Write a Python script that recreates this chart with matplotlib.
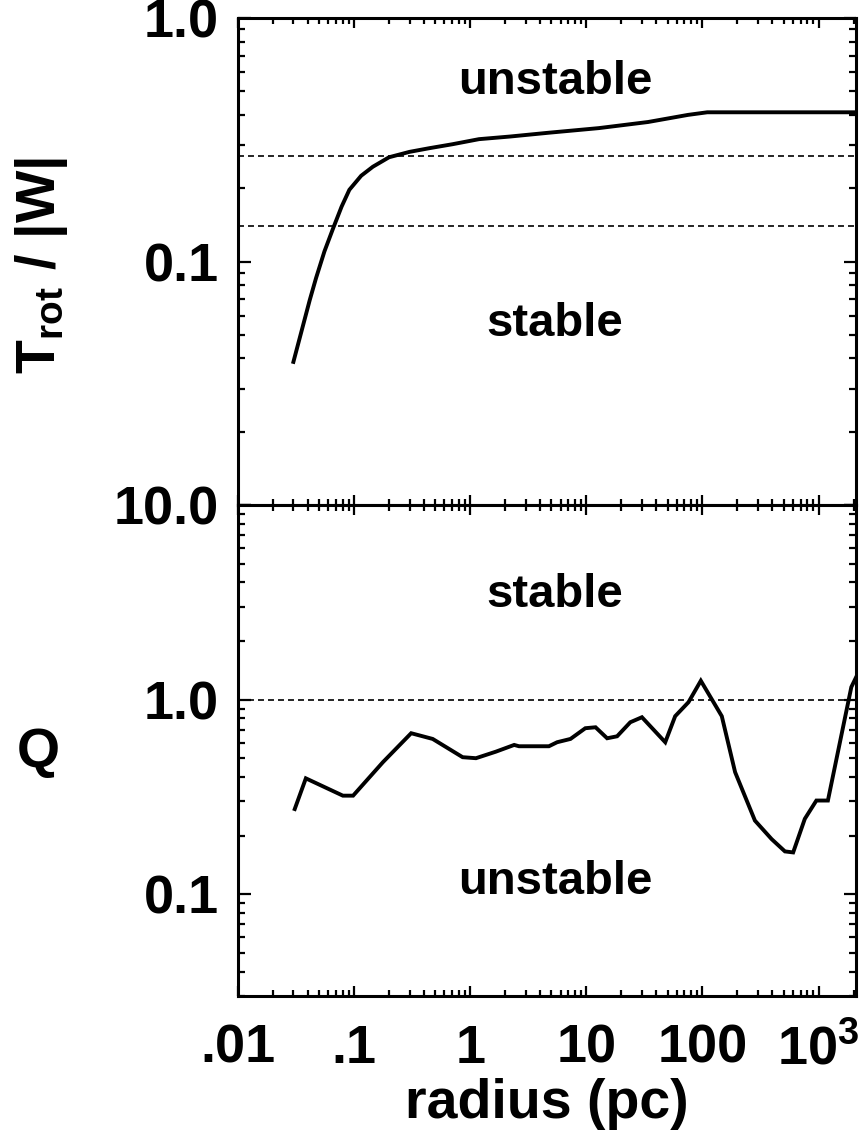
import matplotlib
matplotlib.use("Agg")
import matplotlib.pyplot as plt
from matplotlib.ticker import LogLocator, FuncFormatter, NullFormatter

plt.rcParams['font.family'] = ['Liberation Sans', 'DejaVu Sans']
plt.rcParams['font.weight'] = 'bold'
plt.rcParams['mathtext.fontset'] = 'custom'
plt.rcParams['mathtext.rm'] = 'Liberation Sans:bold'
plt.rcParams['mathtext.bf'] = 'Liberation Sans:bold'
plt.rcParams['mathtext.it'] = 'Liberation Sans:bold'
plt.rcParams['lines.scale_dashes'] = False

# Rotational-to-gravitational energy ratio vs radius
r_trot = [0.030, 0.0415, 0.047, 0.0555, 0.066, 0.078, 0.091, 0.115, 0.145,
          0.20, 0.30, 0.445, 0.70, 1.19, 2.2, 4.76, 12.8, 34, 75, 110, 300,
          1000, 2100]
t_over_w = [0.0387, 0.0695, 0.0855, 0.110, 0.137, 0.168, 0.197, 0.225, 0.245,
            0.268, 0.282, 0.292, 0.303, 0.318, 0.326, 0.338, 0.353, 0.374,
            0.400, 0.410, 0.410, 0.410, 0.410]

# Toomre Q vs radius
r_q = [0.0308, 0.0384, 0.080, 0.098, 0.177, 0.31, 0.475, 0.86, 1.12, 1.66,
       2.39, 2.63, 4.76, 5.6, 7.3, 9.8, 12.0, 15.1, 18.4, 23.9, 30.1, 47.8,
       58.2, 75.8, 96.8, 146.7, 191, 283, 394, 513, 604, 761, 957, 1203, 1914,
       2100]
q_vals = [0.274, 0.394, 0.321, 0.321, 0.477, 0.672, 0.628, 0.506, 0.500, 0.540,
          0.585, 0.576, 0.576, 0.604, 0.628, 0.713, 0.721, 0.633, 0.648, 0.765,
          0.812, 0.604, 0.822, 0.970, 1.25, 0.822, 0.424, 0.239, 0.192, 0.166,
          0.164, 0.244, 0.303, 0.303, 1.16, 1.30]

# Stability thresholds
trot_thresholds = [0.27, 0.14]
q_threshold = 1.0

x_ticks = [0.01, 0.1, 1, 10, 100, 1000]
x_ticklabels = ['.01', '.1', '1', '10', '100', r'$\mathbf{10^3}$']
top_yticks = {1.0: '1.0', 0.1: '0.1'}
bot_yticks = {10.0: '10.0', 1.0: '1.0', 0.1: '0.1'}

W, H = 865, 1147
fig = plt.figure(figsize=(W / 100, H / 100), dpi=100)

left, right = 238 / W, 856 / W
ax1 = fig.add_axes([left, 1 - 505 / H, right - left, (505 - 18) / H])
ax2 = fig.add_axes([left, 1 - 996 / H, right - left, (996 - 505) / H])

line_kw = dict(color='black', lw=2.8, solid_joinstyle='miter')
dash_kw = dict(color='black', lw=1.2, linestyle=(0, (4.3, 2.9)))

ax1.plot(r_trot, t_over_w, **line_kw)
for t in trot_thresholds:
    ax1.axhline(t, **dash_kw)
ax2.plot(r_q, q_vals, **line_kw)
ax2.axhline(q_threshold, **dash_kw)

ax1.set_ylim(0.01, 1.0)
ax2.set_ylim(0.03, 10.0)

tick_fs = 39
for ax, ylab in ((ax1, top_yticks), (ax2, bot_yticks)):
    ax.set_xscale('log')
    ax.set_yscale('log')
    ax.set_xlim(0.01, 2100)
    ax.xaxis.set_major_locator(LogLocator(base=10, numticks=20))
    ax.xaxis.set_minor_locator(LogLocator(base=10, subs=range(2, 10), numticks=20))
    ax.yaxis.set_major_locator(LogLocator(base=10, numticks=20))
    ax.yaxis.set_minor_locator(LogLocator(base=10, subs=range(2, 10), numticks=20))
    ax.xaxis.set_minor_formatter(NullFormatter())
    ax.yaxis.set_minor_formatter(NullFormatter())
    ax.yaxis.set_major_formatter(FuncFormatter(
        lambda v, p, d=ylab: next((s for k, s in d.items() if abs(v / k - 1) < 1e-6), '')))
    for s in ax.spines.values():
        s.set_linewidth(2.2)
    ax.tick_params(which='both', direction='in', top=True, right=True,
                   width=1.6, labelsize=tick_fs)
    ax.tick_params(axis='y', which='major', length=9, pad=14)
    ax.tick_params(axis='y', which='minor', length=5)
    ax.tick_params(axis='x', which='major', length=7, pad=20)
    ax.tick_params(axis='x', which='minor', length=4)

ax1.xaxis.set_major_formatter(NullFormatter())
ax2.xaxis.set_major_formatter(FuncFormatter(
    lambda v, p: next((s for k, s in zip(x_ticks, x_ticklabels) if abs(v / k - 1) < 1e-6), '')))

txt_kw = dict(ha='center', va='center', fontsize=34, fontweight='bold')
ax1.text(0.513, 0.868, 'unstable', transform=ax1.transAxes, **txt_kw)
ax1.text(0.513, 0.372, 'stable', transform=ax1.transAxes, **txt_kw)
ax2.text(0.513, 0.817, 'stable', transform=ax2.transAxes, **txt_kw)
ax2.text(0.513, 0.232, 'unstable', transform=ax2.transAxes, **txt_kw)

fig.text(42 / W, 1 - 265 / H, r'$\mathbf{T_{rot}\ /\ |W|}$', rotation=90,
         ha='center', va='center', fontsize=40)
fig.text(38 / W, 1 - 753 / H, 'Q', ha='center', va='center', fontsize=40,
         fontweight='bold')
fig.text(547 / W, 1 - 1104 / H, 'radius (pc)', ha='center', va='center',
         fontsize=40, fontweight='bold')

fig.savefig('out.png', dpi=100)
